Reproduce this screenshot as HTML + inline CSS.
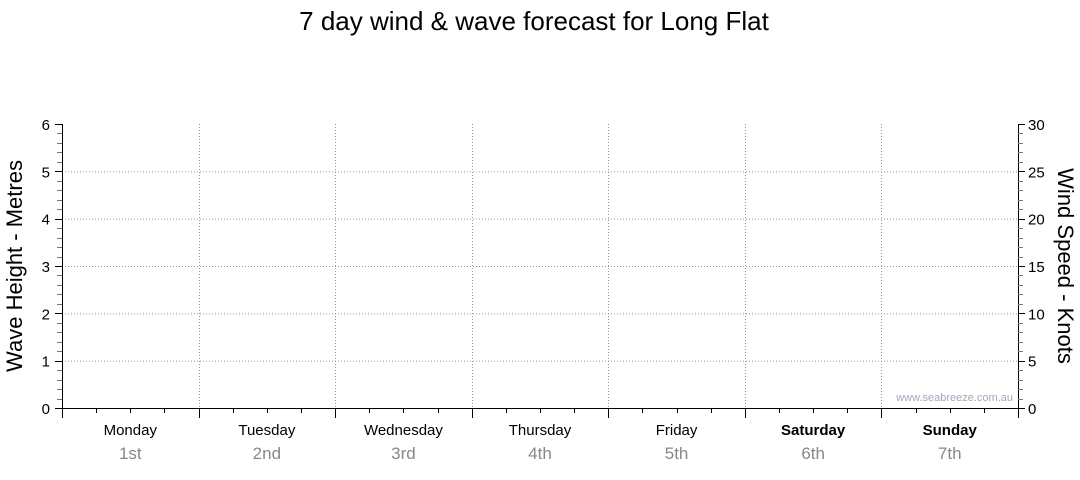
<!DOCTYPE html>
<html><head><meta charset="utf-8"><style>
body{margin:0;background:#fff;font-family:"Liberation Sans",sans-serif}
</style></head><body>
<svg width="1080" height="475" xmlns="http://www.w3.org/2000/svg" id="c" font-family="Liberation Sans, sans-serif">
<text x="534" y="30" font-size="26" text-anchor="middle">7 day wind &amp; wave forecast for Long Flat</text>
<text transform="translate(22,266) rotate(-90)" font-size="22" text-anchor="middle">Wave Height - Metres</text>
<text transform="translate(1058,266) rotate(90)" font-size="22" text-anchor="middle">Wind Speed - Knots</text>
<text x="1013" y="401" font-size="11" fill="#a0a8b8" text-anchor="end">www.seabreeze.com.au</text>
</svg>
<script>
const days=["Monday","Tuesday","Wednesday","Thursday","Friday","Saturday","Sunday"];
const dates=["1st","2nd","3rd","4th","5th","6th","7th"];
const boldDays=[false,false,false,false,false,true,true];
const waveTicks=[0,1,2,3,4,5,6];
const windTicks=[0,5,10,15,20,25,30];
const svg=document.getElementById('c');
const NS="http://www.w3.org/2000/svg";
const L=62,R=1018,T=124,B=408;
const x=d=>L+(R-L)*d/days.length;
const yw=v=>B-(B-T)*v/6;
const yk=v=>B-(B-T)*v/30;
function el(t,a,txt){const e=document.createElementNS(NS,t);for(const k in a)e.setAttribute(k,a[k]);if(txt!==undefined)e.textContent=txt;svg.appendChild(e);return e;}
// gridlines
waveTicks.forEach(v=>{if(v>0&&v<6){const g=el('line',{x1:L,x2:R,y1:yw(v)+.5,y2:yw(v)+.5,stroke:'#999','stroke-dasharray':'1,2'});

}});
for(let d=1;d<days.length;d++){const g=el('line',{x1:Math.round(x(d))+.5,x2:Math.round(x(d))+.5,y1:T,y2:B,stroke:'#999','stroke-dasharray':'1,2'});

}
// axes
const ax=el('path',{d:`M${L+.5} ${T}V${B+.5}H${R+.5}V${T}`,stroke:'#000',fill:'none'});


// left minor ticks & labels
for(let i=0;i<=30;i++){const v=i/5,y=Math.round(yw(v))+.5;const maj=i%5==0;el('line',{x1:maj?55:57,x2:L,y1:y,y2:y,stroke:maj?'#000':'#777'});}
waveTicks.forEach(v=>{const t=el('text',{x:50,y:yw(v)+6,'font-size':15,'text-anchor':'end'},v);

});
for(let i=0;i<=30;i++){const y=Math.round(yk(i))+.5;const maj=i%5==0;el('line',{x1:R,x2:maj?1025:1023,y1:y,y2:y,stroke:maj?'#000':'#777'});}
windTicks.forEach(v=>{const t=el('text',{x:1028,y:yk(v)+6,'font-size':15},v);

});
// bottom ticks
for(let q=0;q<=days.length*4;q++){const xx=Math.round(L+(R-L)*q/(days.length*4))+.5;const maj=q%4==0;el('line',{x1:xx,x2:xx,y1:B,y2:maj?418:413,stroke:'#000'});}
days.forEach((d,i)=>{const cx=x(i+.5);
const t=el('text',{x:cx,y:435,'font-size':15,'text-anchor':'middle','font-weight':boldDays[i]?'bold':'normal'},d);


const s=el('text',{x:cx,y:459,'font-size':17,'text-anchor':'middle',fill:'#888'},dates[i]);

});
</script>
</body></html>
